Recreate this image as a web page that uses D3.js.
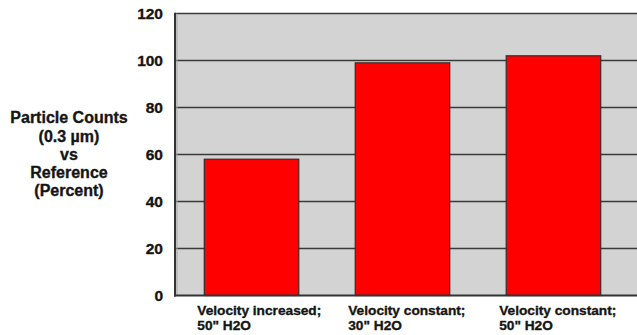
<!DOCTYPE html>
<html><head><meta charset="utf-8">
<script src="https://cdn.jsdelivr.net/npm/d3@7"></script>
<style>
html,body{margin:0;padding:0;background:#fff;}
svg{display:block;}
text{font-family:"Liberation Sans",Arial,Helvetica,sans-serif;font-weight:bold;fill:#151515;stroke:#151515;stroke-width:0.35px;}
</style></head>
<body>
<script>
const categories = [["Velocity increased;", "50\" H2O"], ["Velocity constant;", "30\" H2O"], ["Velocity constant;", "50\" H2O"]];
const values = [58, 99, 102];
const yTicks = [0, 20, 40, 60, 80, 100, 120];
const yTitle = ["Particle Counts", "(0.3 µm)", "vs", "Reference", "(Percent)"];

const W = 637, H = 335;
const plot = {left: 175, top: 13.5, right: 640, bottom: 295.5};

const svg = d3.select("body").append("svg").attr("width", W).attr("height", H);

const y = d3.scaleLinear().domain([0, 120]).range([plot.bottom, plot.top]);
const x = d3.scaleBand().domain(d3.range(categories.length))
  .range([plot.left, 630]).paddingInner(0.374).paddingOuter(0.194);

// background
svg.append("rect").attr("x", plot.left).attr("y", plot.top)
  .attr("width", plot.right - plot.left).attr("height", plot.bottom - plot.top)
  .attr("fill", "#d3d3d3");

// grid lines
svg.append("g").selectAll("line").data(yTicks.filter(d => d > 0)).join("line")
  .attr("x1", plot.left).attr("x2", plot.right)
  .attr("y1", d => y(d)).attr("y2", d => y(d))
  .attr("stroke", "#3a3a3a").attr("stroke-width", d => d === 120 ? 1.6 : 1.3);

// bars
svg.append("g").selectAll("rect").data(values).join("rect")
  .attr("x", (d, i) => x(i)).attr("width", x.bandwidth())
  .attr("y", d => y(d)).attr("height", d => y(0) - y(d))
  .attr("fill", "#ff0000").attr("stroke", "#3a2a2a").attr("stroke-width", 1.2);

// left axis line with light inner shade
svg.append("line").attr("x1", plot.left + 2).attr("x2", plot.left + 2)
  .attr("y1", plot.top).attr("y2", plot.bottom).attr("stroke", "#a8a8a8").attr("stroke-width", 1);
svg.append("line").attr("x1", plot.left).attr("x2", plot.left)
  .attr("y1", plot.top - 0.8).attr("y2", plot.bottom + 1).attr("stroke", "#333").attr("stroke-width", 2);
// bottom axis line
svg.append("line").attr("x1", plot.left - 1).attr("x2", plot.right)
  .attr("y1", y(0)).attr("y2", y(0)).attr("stroke", "#333").attr("stroke-width", 2);

// y tick labels
const yAxis = d3.axisLeft(y).tickValues(yTicks).tickSize(0).tickPadding(12);
const gy = svg.append("g").attr("transform", `translate(${plot.left},0)`).call(yAxis);
gy.select(".domain").remove();
gy.selectAll("text").attr("font-size", "15.5px").attr("fill", "#151515")
  .style("font-family", "'Liberation Sans',Arial,sans-serif").style("font-weight", "bold");

// x labels
const xl = svg.append("g").selectAll("text").data(categories).join("text")
  .attr("x", (d, i) => x(i) - 7).attr("y", 315.3).attr("font-size", "13.7px");
xl.selectAll("tspan").data(d => d).join("tspan")
  .attr("x", function() { return d3.select(this.parentNode).attr("x"); })
  .attr("dy", (d, i) => i === 0 ? 0 : 14.3)
  .text(d => d);

// y title
svg.append("text").attr("x", 69).attr("y", 123.3).attr("font-size", "16px")
  .attr("text-anchor", "middle")
  .selectAll("tspan").data(yTitle).join("tspan")
  .attr("x", 69).attr("dy", (d, i) => i === 0 ? 0 : 18.2).text(d => d);
</script>
</body></html>
